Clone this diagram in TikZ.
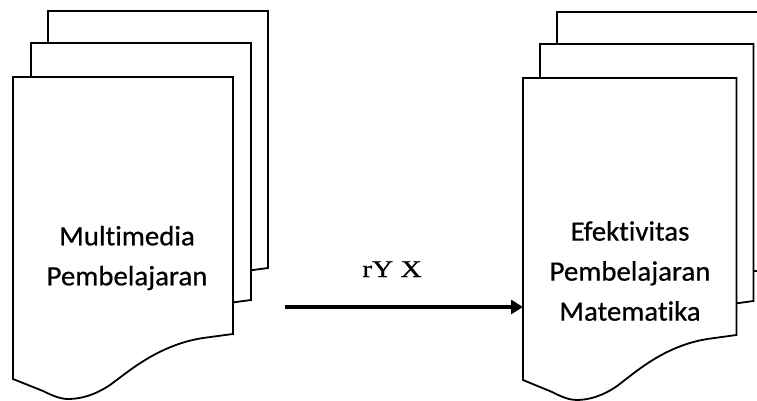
\documentclass[tikz,border=0pt]{standalone}
\usepackage{fontspec}
\usepackage{graphicx}
\usetikzlibrary{arrows.meta}
\setmainfont[Ligatures=NoCommon, FakeBold=0.6]{Carlito}
\newfontfamily\labelserif[FakeBold=0.7]{Liberation Serif}

% One sheet of a document stack: top-left corner at (#1,#2), horizontal scale #3
\newcommand\docsheet[3]{%
  \begin{scope}[shift={(#1,#2)}, xscale=#3]
    \filldraw[sheet] (0,0) -- (220,0) -- (220,257) -- (190,261)
      .. controls (145,268) and (115,295) .. (97,308)
      .. controls (82,318) and (68,322) .. (55,322)
      .. controls (48,322) and (40,319) .. (30,314)
      -- (0,302) -- cycle;
  \end{scope}}

\begin{document}
\begin{tikzpicture}[x=1pt, y=-1pt,
  sheet/.style={draw=black, fill=white, line width=1.8pt, line join=miter},
  sheettext/.style={font=\fontsize{28}{40}\selectfont, align=center, inner sep=0pt},
  flowarrow/.style={line width=3.2pt, -{Triangle[length=12pt, width=14pt]}},
  flowlabel/.style={font=\labelserif\fontsize{24}{27}\selectfont, inner sep=0pt, anchor=base}]
  \useasboundingbox (0,0) rectangle (757,401);
  \fill[white] (0,0) rectangle (757,401);
  \clip (0,0) rectangle (757,401);

  % left stack
  \docsheet{48}{11}{1}
  \docsheet{31}{43}{1}
  \docsheet{13}{77}{1}
  \node[sheettext] (media) at (127,258) {\scalebox{1.03}[1]{Multimedia}\\\scalebox{1.03}[1]{Pembelajaran}};

  % right stack
  \docsheet{557}{12}{0.97}
  \docsheet{540}{44}{0.97}
  \docsheet{523}{78}{0.97}
  \node[sheettext] (efek) at (630,271) {\scalebox{1.03}[1]{Efektivitas}\\\scalebox{1.03}[1]{Pembelajaran}\\\scalebox{1.03}[1]{Matematika}};

  % connector
  \coordinate (tail) at (285,307);
  \coordinate (head) at (523,307);
  \draw[flowarrow] (tail) -- (head);
  \node[flowlabel] (ryx) at (392,277) {\scalebox{1.22}[1]{rY X}};
\end{tikzpicture}
\end{document}
